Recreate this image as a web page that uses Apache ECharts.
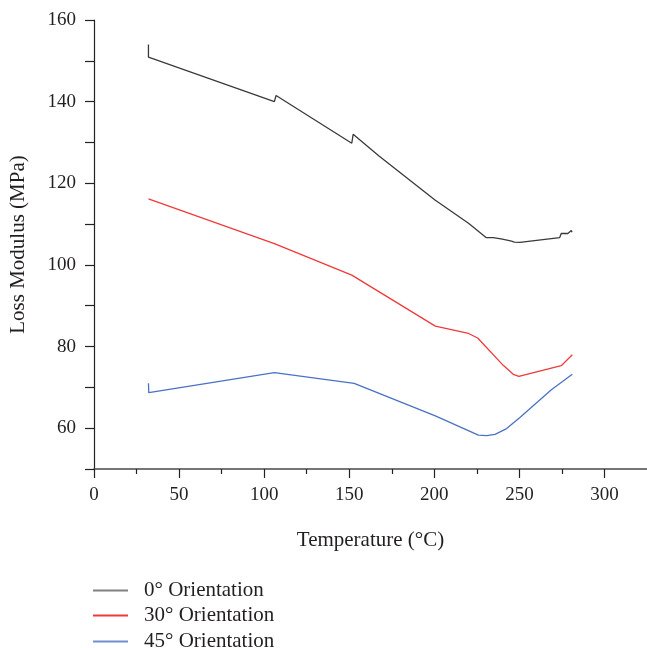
<!DOCTYPE html>
<html>
<head>
<meta charset="utf-8">
<script src="https://cdn.jsdelivr.net/npm/echarts@6/dist/echarts.min.js"></script>
<style>
html,body{margin:0;padding:0;background:#fff;}
#chart{width:647px;height:648px;}
</style>
</head>
<body>
<div id="chart"></div>
<script>
// Series data (Temperature °C, Loss Modulus MPa)
const seriesNames = ['0° Orientation', '30° Orientation', '45° Orientation'];

const temp0 = [32, 32, 106, 107, 151.5, 152.3, 167.5, 200.4, 220.1, 230.4, 234.7, 240, 245.4, 247, 250.3, 273.7, 274.6, 278.5, 280.5, 281];
const loss0 = [154.0, 150.9, 140.0, 141.5, 129.8, 132.0, 126.7, 115.9, 110.2, 106.7, 106.7, 106.3, 105.8, 105.6, 105.5, 106.7, 107.7, 107.7, 108.4, 108.0];

const temp30 = [32, 32.3, 106, 151.5, 152, 200.6, 220.1, 225.5, 240.5, 246.4, 249.7, 274.6, 281.1];
const loss30 = [116.2, 115.8, 105.2, 97.5, 97.1, 85.0, 83.2, 82.1, 75.4, 73.2, 72.7, 75.3, 78.0];

const temp45 = [32, 32.2, 106, 152.9, 200.6, 225.9, 230.8, 235.7, 242.5, 250.3, 268.8, 281.1];
const loss45 = [71.0, 68.7, 73.6, 71.0, 63.0, 58.3, 58.2, 58.5, 59.9, 62.6, 69.4, 73.2];

const xMajorTicks = [0, 50, 100, 150, 200, 250, 300];
const xMinorTicks = [25, 75, 125, 175, 225, 275];
const yTickLabels = [60, 80, 100, 120, 140, 160];

const FONT = 'Liberation Serif';
const TXT = '#231f20';
const colors = ['#3a3a3a', '#f03a3a', '#4a72c4'];
const legendColors = ['#808080', '#f03a3a', '#6f8fd0'];
const legendTops = [580, 605, 631];

function zip(xs, ys) { return xs.map((x, i) => [x, ys[i]]); }

const chart = echarts.init(document.getElementById('chart'), null, {renderer: 'canvas'});
chart.setOption({
  animation: false,
  backgroundColor: '#fff',
  grid: {left: 93, top: 20, width: 556, height: 449, containLabel: false},
  xAxis: [{
    type: 'value', min: 0, max: 325,
    name: 'Temperature (°C)', nameLocation: 'middle', nameGap: 61,
    nameTextStyle: {fontFamily: FONT, fontSize: 21, color: TXT},
    axisLine: {show: true, lineStyle: {color: '#4a4a4a', width: 1.5}},
    axisTick: {show: true, length: 9, inside: false, customValues: xMajorTicks, lineStyle: {color: '#222', width: 1.2}},
    axisLabel: {show: true, customValues: xMajorTicks, margin: 17, fontFamily: FONT, fontSize: 19, color: TXT},
    splitLine: {show: false}
  }, {
    type: 'value', min: 0, max: 325, position: 'bottom',
    axisLine: {show: false},
    axisTick: {show: true, length: 5, customValues: xMinorTicks, lineStyle: {color: '#222', width: 1.2}},
    axisLabel: {show: false},
    splitLine: {show: false}
  }],
  yAxis: {
    type: 'value', min: 50, max: 160, interval: 10,
    name: 'Loss Modulus (MPa)', nameLocation: 'middle', nameGap: 65,
    nameTextStyle: {fontFamily: FONT, fontSize: 21, color: TXT},
    axisLine: {show: true, lineStyle: {color: '#222', width: 1.2}},
    axisTick: {show: true, length: 9, lineStyle: {color: '#222', width: 1.2}},
    axisLabel: {
      margin: 18, fontFamily: FONT, fontSize: 19, color: TXT,
      formatter: v => yTickLabels.indexOf(v) >= 0 ? String(v) : ''
    },
    splitLine: {show: false}
  },
  legend: seriesNames.map((n, i) => ({
    orient: 'vertical', left: 93, top: legendTops[i], padding: 0,
    itemWidth: 35, itemHeight: 2, icon: 'rect', selectedMode: false,
    textStyle: {fontFamily: FONT, fontSize: 21, color: TXT, padding: [0, 0, 0, 11]},
    data: [{name: n, itemStyle: {color: legendColors[i]}}]
  })),
  series: [
    {name: seriesNames[0], type: 'line', data: zip(temp0, loss0), showSymbol: false, symbol: 'none', lineStyle: {color: colors[0], width: 1.3}, itemStyle: {color: colors[0]}},
    {name: seriesNames[1], type: 'line', data: zip(temp30, loss30), showSymbol: false, symbol: 'none', lineStyle: {color: colors[1], width: 1.3}, itemStyle: {color: colors[1]}},
    {name: seriesNames[2], type: 'line', data: zip(temp45, loss45), showSymbol: false, symbol: 'none', lineStyle: {color: colors[2], width: 1.3}, itemStyle: {color: colors[2]}}
  ]
});
</script>
</body>
</html>
